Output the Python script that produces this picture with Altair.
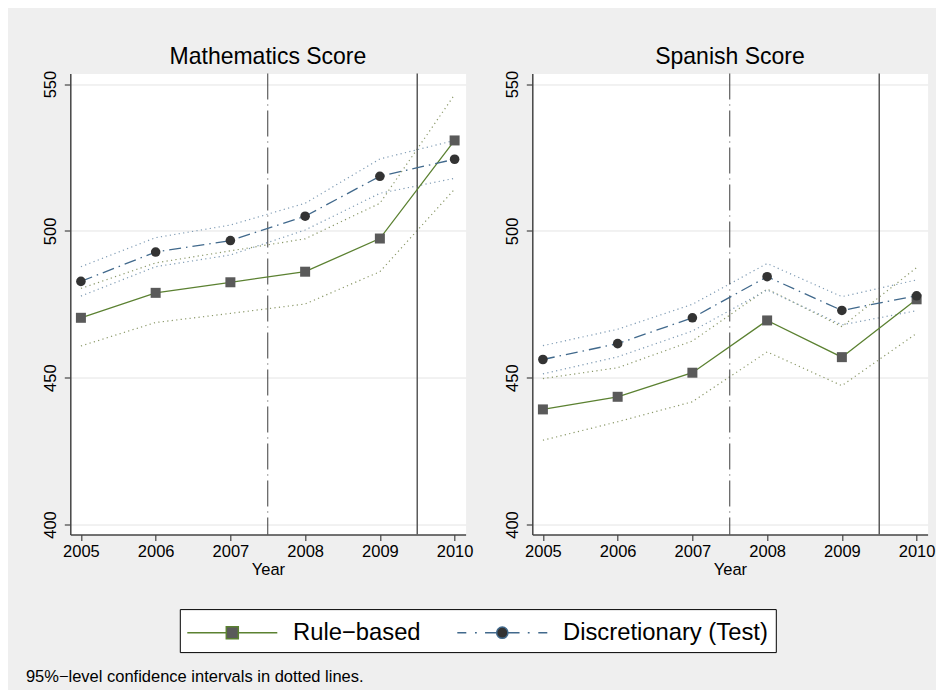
import altair as alt
import pandas as pd

FONT = "Liberation Sans"

# ---------------- data ----------------
years = [2005, 2006, 2007, 2008, 2009, 2010]
series_names = ["Rule−based", "Discretionary (Test)"]
subjects = ["Mathematics Score", "Spanish Score"]

math_rule = [470.4, 478.9, 482.5, 486.1, 497.4, 530.8]
math_rule_lo = [460.8, 468.8, 471.9, 475.1, 486.1, 514.2]
math_rule_hi = [480.4, 489.1, 493.2, 497.3, 509.4, 546.4]
math_disc = [482.8, 492.8, 496.7, 505.0, 518.6, 524.4]
math_disc_lo = [477.8, 487.8, 491.8, 500.3, 512.8, 517.9]
math_disc_hi = [487.8, 497.7, 502.0, 509.4, 524.5, 530.8]

span_rule = [439.2, 443.5, 451.7, 469.5, 457.0, 476.7]
span_rule_lo = [428.7, 435.0, 441.8, 458.8, 447.3, 465.1]
span_rule_hi = [449.7, 453.4, 462.5, 480.2, 467.4, 487.5]
span_disc = [456.2, 461.6, 470.4, 484.4, 472.9, 477.9]
span_disc_lo = [451.3, 457.1, 465.9, 479.9, 468.0, 472.8]
span_disc_hi = [460.9, 466.5, 475.0, 488.9, 477.6, 483.3]

reform_dashdot = [2007.5]
reform_solid = [2009.5]

y_ticks = [400, 450, 500, 550]
note = "95%−level confidence intervals in dotted lines."

# ---------------- styles ----------------
GREEN = "#5b8131"
BLUE = "#41698c"
GREEN_CI = "#8a9868"
BLUE_CI = "#7f9bb4"

RULE_PATH = "M-3,0L-0.4,0M0.4,0L3,0M-0.4,-0.4L0.4,-0.4L0.4,0.4L-0.4,0.4Z"
DISC_PATH = ("M-3,0L-2.4,0M-1.82,0L-1.7,0M-1.15,0L-0.38,0M0.38,0L1.15,0"
             "M1.7,0L1.82,0M2.4,0L3,0"
             "M0.377,0A0.377,0.377,0,1,1,-0.377,0A0.377,0.377,0,1,1,0.377,0Z")


def make_df(rule, rule_lo, rule_hi, disc, disc_lo, disc_hi):
    rows = []
    for i, yr in enumerate(years):
        rows.append({"series": series_names[0], "year": yr, "est": rule[i],
                     "lo": rule_lo[i], "hi": rule_hi[i]})
        rows.append({"series": series_names[1], "year": yr, "est": disc[i],
                     "lo": disc_lo[i], "hi": disc_hi[i]})
    return pd.DataFrame(rows)


df_math = make_df(math_rule, math_rule_lo, math_rule_hi, math_disc, math_disc_lo, math_disc_hi)
df_span = make_df(span_rule, span_rule_lo, span_rule_hi, span_disc, span_disc_lo, span_disc_hi)

x_scale = alt.Scale(domain=[2004.858, 2010.147], nice=False, zero=False)
y_scale = alt.Scale(domain=[396.6, 553.6], nice=False, zero=False)
x_axis = alt.Axis(values=years, format="d", title="Year", grid=False,
                  labelPadding=3, titlePadding=2, labelFlush=False)
y_axis = alt.Axis(values=y_ticks, title=None, grid=True, labelAngle=270,
                  labelAlign="center", labelBaseline="alphabetic",
                  labelPadding=8.7, labelFlush=False)


def X(field="year"):
    return alt.X(f"{field}:Q", scale=x_scale, axis=x_axis)


def Y(field):
    return alt.Y(f"{field}:Q", scale=y_scale, axis=y_axis)


legend = alt.Legend(
    title=None, orient="none", legendX=109.5, legendY=535.6,
    direction="horizontal", columns=2,
    symbolSize=900, symbolStrokeWidth=1.5, symbolOffset=29, labelOffset=44.7,
    labelFontSize=23.8, labelFont=FONT, labelColor="black", labelLimit=500,
    padding=7.5, fillColor="white", strokeColor="black", columnPadding=33,
    symbolOpacity=1,
)


def panel(df, title, with_legend):
    base = alt.Chart(df)
    rule_f = alt.datum.series == series_names[0]
    disc_f = alt.datum.series == series_names[1]
    layers = []
    for flt, col in [(rule_f, GREEN_CI), (disc_f, BLUE_CI)]:
        for fld in ["lo", "hi"]:
            layers.append(
                base.transform_filter(flt)
                .mark_line(color=col, strokeWidth=1.2, strokeDash=[1.2, 3.3])
                .encode(x=X(), y=Y(fld))
            )
    layers.append(
        alt.Chart(pd.DataFrame({"yr": reform_dashdot}))
        .mark_rule(color="#3c3c3c", strokeWidth=1, strokeDash=[26, 5, 1, 5])
        .encode(x=X("yr"))
    )
    layers.append(
        alt.Chart(pd.DataFrame({"yr": reform_solid}))
        .mark_rule(color="#5a5a5a", strokeWidth=1.5)
        .encode(x=X("yr"))
    )
    layers.append(
        base.transform_filter(rule_f)
        .mark_line(color=GREEN, strokeWidth=1.3)
        .encode(x=X(), y=Y("est"))
    )
    layers.append(
        base.transform_filter(disc_f)
        .mark_line(color=BLUE, strokeWidth=1.3, strokeDash=[12, 5, 1.5, 5])
        .encode(x=X(), y=Y("est"))
    )
    layers.append(
        base.transform_filter(rule_f)
        .mark_square(size=100, color="#5a5a5a", opacity=1)
        .encode(x=X(), y=Y("est"))
    )
    layers.append(
        base.transform_filter(disc_f)
        .mark_circle(size=92, color="#333333", opacity=1)
        .encode(x=X(), y=Y("est"))
    )
    if with_legend:
        leg_df = pd.DataFrame({"series": series_names})
        layers.append(
            alt.Chart(leg_df)
            .mark_point(opacity=0, filled=True)
            .encode(
                color=alt.Color("series:N", scale=alt.Scale(domain=series_names, range=["#5a5a5a", "#333333"]), legend=legend),
                stroke=alt.Stroke("series:N", scale=alt.Scale(domain=series_names, range=[GREEN, BLUE]), legend=legend),
                shape=alt.Shape("series:N", scale=alt.Scale(domain=series_names, range=[RULE_PATH, DISC_PATH]), legend=legend),
            )
        )
    return alt.layer(*layers).properties(
        width=395.3, height=461,
        view=alt.ViewBackground(fill="white", stroke="transparent"),
        title=alt.TitleParams(text=title, fontSize=23, font=FONT, fontWeight="normal",
                              color="black", baseline="alphabetic", offset=-16.4,
                              anchor="middle", frame="group"),
    )


chart = (
    alt.hconcat(panel(df_math, subjects[0], True), panel(df_span, subjects[1], False),
                spacing=66, bounds="flush")
    .properties(
        title=alt.TitleParams(text=note, orient="bottom", anchor="start", frame="group",
                              dx=-44.4, offset=29, fontSize=16.5, font=FONT,
                              fontWeight="normal", color="black", baseline="alphabetic"),
        padding={"left": 17.3, "top": 36.5, "right": 0, "bottom": 4},
    )
    .configure(background="#efefef", font=FONT)
    .configure_view(fill="white", stroke="transparent")
    .configure_axis(
        domainColor="#444444", domainWidth=1.5, tickColor="#444444", tickWidth=1.2,
        tickSize=6, labelFont=FONT, labelFontSize=16.5, labelColor="black",
        titleFont=FONT, titleFontSize=16.5, titleColor="black", titleFontWeight="normal",
        gridColor="#e4e4e4", gridWidth=1,
    )
)

chart.save("out.html", embed_options={"renderer": "svg", "actions": False})
